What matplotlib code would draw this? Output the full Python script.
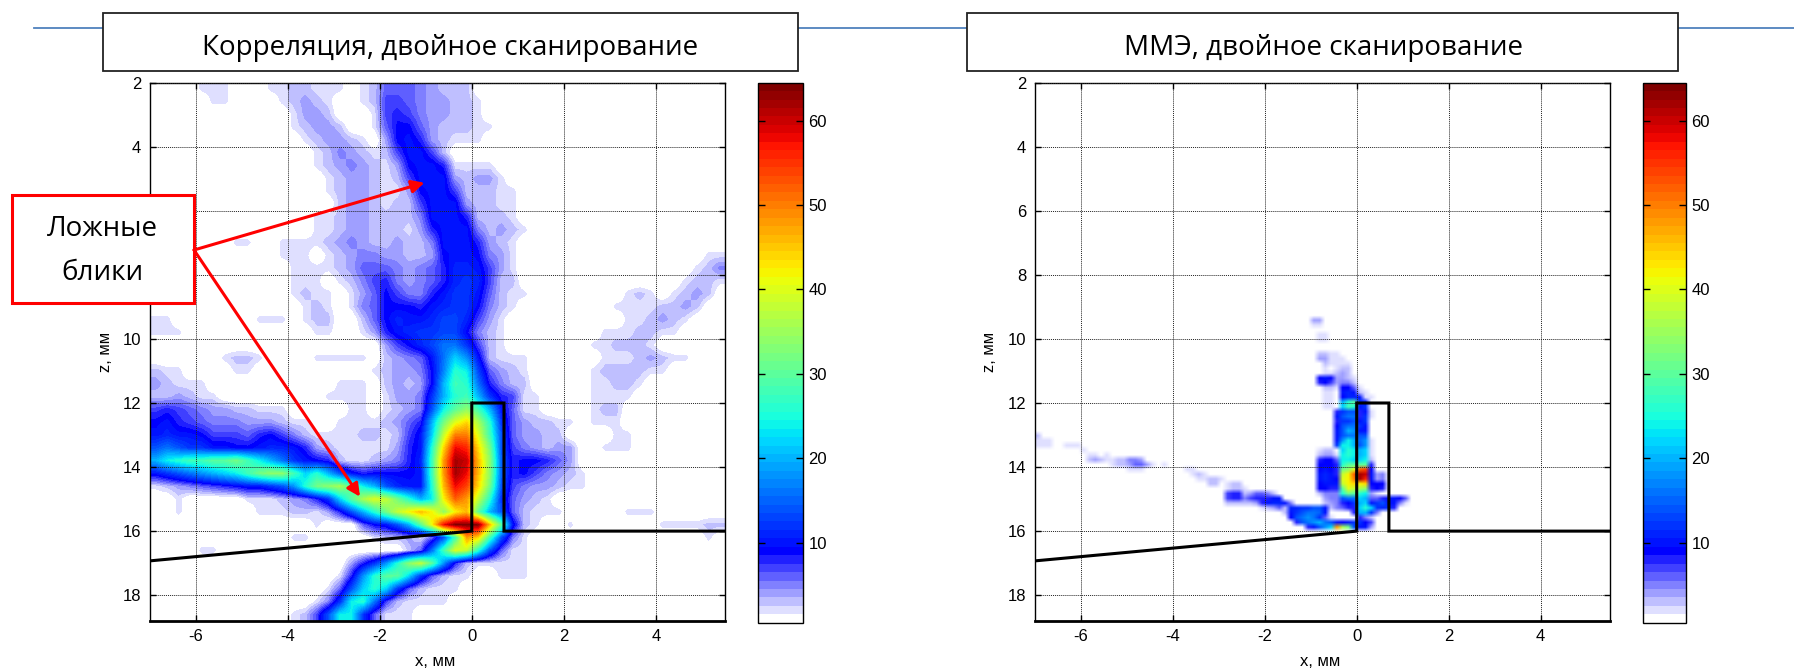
import numpy as np
import matplotlib
matplotlib.use("Agg")
import matplotlib.pyplot as plt
from matplotlib.colors import ListedColormap
from matplotlib.patches import Rectangle, FancyArrowPatch
from matplotlib.lines import Line2D

FW, FH = 1794, 670
title_left = "Корреляция, двойное сканирование"
title_right = "ММЭ, двойное сканирование"
callout_lines = ["Ложные", "блики"]
x_ticks = [-6, -4, -2, 0, 2, 4]
z_ticks = [2, 4, 6, 8, 10, 12, 14, 16, 18]
z_labels_left = ["2", "4", "", "", "10", "12", "14", "16", "18"]  # 6 and 8 sit under the callout box
z_labels_right = ["2", "4", "6", "8", "10", "12", "14", "16", "18"]
cbar_ticks = [10, 20, 30, 40, 50, 60]
x_label = "x, мм"
z_label = "z, мм"
# sample outline (x mm, z mm)
outline_x = [-7, 0, 0, 0.7, 0.7, 5.5]
outline_z = [16.93, 16, 12, 12, 16, 16]

# left panel: columns every 0.25 mm from x=-7, rows every 0.4 mm from z=2; trailing zeros omitted
corr_rows = [
[0,0,0,0,2,2,2,0,0,0, 2,2,3,3,2,2,2,0,2,3, 6,6,6,5,4,3,3,3],
[0,0,0,0,0,2,2,0,0,0, 0,2,3,4,3,2,0,0,2,3, 7,7,6,5,4,4,3,3,2],
[0,0,0,0,0,0,0,0,0,0, 0,0,2,4,4,3,0,0,0,2, 7,8,7,5,4,4,3,3,2],
[0,0,0,0,0,0,0,0,0,0, 0,0,2,3,4,4,3,0,0,2, 6,9,9,6,4,3,3,3,2,2],
[0,0,0,0,0,0,0,0,0,0, 0,0,0,2,3,4,4,3,2,0, 4,9,10,8,4,3,2,2,2],
[0,0,0,0,0,0,0,0,0,0, 0,0,0,0,2,3,5,4,3,2, 3,7,10,10,7,3],
[0,0,0,0,0,0,0,0,0,0, 0,0,0,0,2,3,4,5,4,3, 2,4,9,10,10,8,2,2,2,2],
[0,0,0,0,0,0,0,0,0,0, 0,0,0,0,0,2,3,4,4,3, 2,3,7,10,10,10,4,3,4,4,2],
[0,0,0,0,0,0,0,0,0,0, 0,0,0,0,0,2,3,4,4,3, 2,2,4,9,10,10,7,3,3,3,2,2],
[0,0,0,0,0,0,0,0,0,0, 0,0,0,0,0,0,3,4,4,3, 2,3,3,7,10,10,10,4,3,3,2,2],
[0,0,0,0,0,0,0,0,0,0, 0,0,0,0,2,2,3,4,4,3, 3,3,3,5,10,10,10,8,3,3,3,2],
[0,0,0,0,0,0,0,0,0,0, 0,0,0,0,2,2,3,4,4,3, 3,3,2,4,8,10,10,10,5,3,4,3,2],
[0,0,0,0,0,0,0,2,2,0, 0,2,2,2,2,3,4,5,4,3, 3,4,3,3,5,10,10,10,8,4,3,2],
[0,0,0,0,0,0,0,0,0,0, 0,2,2,2,0,2,3,4,5,5, 4,4,3,3,4,9,10,10,9,5,4,2,0,0,0,0,0,0,0,0,0,0,0,0,0,0,0,0,2,2],
[0,0,0,0,0,0,0,0,0,0, 0,0,2,2,2,2,3,4,6,6, 6,5,4,5,6,8,11,11,10,7,4,2,0,0,0,0,0,0,0,0,0,0,0,0,0,0,0,2,3,5],
[0,0,0,0,0,0,0,0,0,0, 0,0,2,2,2,0,2,3,5,7, 8,5,4,5,6,8,11,12,11,7,3,3,0,0,0,0,0,0,0,0,0,0,0,0,0,0,2,3,3,2],
[0,0,0,0,0,0,0,0,0,0, 0,0,2,3,2,2,0,2,4,6, 9,7,5,5,8,10,12,12,10,6,3,2,2,0,0,0,0,0,0,0,0,2,3,2,0,2,3,4,3],
[0,0,0,0,0,0,0,0,0,0, 0,0,0,2,3,2,0,2,5,6, 9,9,9,8,10,11,12,12,9,5,3,2,0,0,0,0,0,0,0,0,2,2,2,2,3,3,4,3],
[2,2,0,0,0,0,0,0,0,2, 2,2,0,2,3,3,0,0,3,6, 9,11,10,10,11,13,13,11,7,4,2,0,0,0,0,0,0,0,0,0,0,2,2,3,4,3,2],
[2,2,2,0,0,0,0,0,0,0, 0,0,0,0,2,2,0,0,2,4, 8,10,11,12,12,13,13,9,5,3,2,0,0,0,0,0,0,0,0,2,2,2,3,3,2,2],
[0,0,0,0,0,0,0,0,0,0, 0,0,0,0,0,0,0,0,0,0, 4,7,9,11,13,16,16,12,7,3,2,0,0,0,0,0,0,0,2,2,3,3,3,2],
[0,0,0,0,0,0,2,3,3,2, 0,0,0,0,2,2,2,2,2,0, 3,4,5,6,10,16,22,18,10,3,2,2,2,0,0,0,0,0,0,2,2,2,3,4,3,2,2],
[3,2,2,0,0,0,0,2,2,0, 0,0,0,0,0,0,0,0,0,2, 3,4,4,5,9,17,26,24,13,6,4,3,2,0,0,0,0,0,2,3,3,3,3,2,2],
[4,3,2,2,2,0,0,0,0,0, 0,0,0,0,0,0,2,2,2,0, 3,4,3,4,9,20,28,26,16,8,5,3,3,0,0,0,0,0,2,2,3,3,2],
[3,3,4,3,2,2,0,0,0,0, 0,0,0,0,0,2,2,2,2,0, 2,4,4,5,12,20,26,28,20,12,8,7,2,2,0,0,0,0,2,2,2,2],
[7,8,7,6,5,4,4,3,3,2, 2,2,0,0,0,0,0,2,2,0, 2,3,4,5,14,24,30,34,28,20,10,6,2,2,0,0,0,0,2,3,3],
[9,10,8,7,6,5,5,5,4,4, 4,3,2,2,0,0,2,2,2,2, 3,4,6,8,20,32,40,44,36,26,12,6,4,3,3,2,2,0,2,2,2],
[10,11,10,10,9,7,7,7,6,8, 9,7,5,3,2,2,2,2,3,3, 2,3,7,10,22,38,50,50,40,28,14,6,4,4,3,3,0,0,0,0,2,2],
[14,16,14,12,12,10,10,9,9,10, 11,11,10,8,4,3,2,2,2,2, 2,4,8,10,26,44,58,56,44,32,14,7,5,4,3,4,4,0,0,2,2,2],
[20,24,26,28,28,30,30,32,28,24, 20,16,12,10,9,8,3,2,2,3, 4,5,8,11,28,48,62,60,46,34,15,8,9,9,8,6,4],
[10,12,14,16,18,20,22,24,28,32, 34,34,28,22,26,20,14,10,8,9, 9,9,9,10,28,48,62,58,46,34,15,8,9,7,5,4,3,2],
[2,3,4,5,6,7,8,9,10,10, 12,14,18,26,32,34,36,30,24,20, 14,11,10,10,26,46,58,54,44,32,14,7,5,4,4,3,2,2],
[0,0,2,0,0,0,0,0,2,2, 2,3,4,5,8,12,22,30,36,40, 38,32,26,20,24,42,52,48,38,26,12,6,4,3,2],
[0,0,2,0,0,0,0,0,0,2, 2,2,3,3,2,4,8,14,20,26, 32,38,42,46,42,34,42,46,30,20,14,6,3,2,2,2,0,0,0,0,0,2,2,2],
[0,0,0,0,0,0,0,0,0,0, 0,0,0,0,2,0,0,0,6,9, 10,14,20,30,42,58,64,64,64,46,30,10,3,2,0,0,2,0,0,0,0,0,0,0,2,2,2,2,3,3],
[0,0,0,0,0,0,0,0,0,0, 0,0,2,2,0,0,0,0,0,2, 3,3,4,2,6,14,28,48,44,28,14,5,2,0,0,0,0,0,0,0,0,0,0,0,0,0,0,0,2],
[0,0,0,0,2,2,0,0,0,0, 0,0,0,0,0,0,0,0,0,0, 0,0,3,6,16,28,40,38,26,14,6,2,2],
[0,0,0,0,0,0,0,0,0,0, 0,0,0,0,0,0,0,4,8,12, 18,26,34,38,30,18,8,3,2,2,2,2,2],
[0,0,0,0,0,0,0,0,0,0, 0,0,0,0,0,0,2,8,18,26, 30,30,22,12,6,3,2,2,0,0,2,2,2],
[0,0,0,0,0,0,0,0,0,0, 0,0,0,0,0,2,6,14,22,26, 22,12,6,3,2,2,2],
[0,0,0,0,0,0,0,0,0,0, 0,0,0,0,2,5,12,24,26,16, 7,3,2,2,2,2],
[0,0,0,0,0,0,0,0,0,0, 0,0,2,3,7,14,24,24,12,6, 2,2,2],
]

# right panel: (z of row, x of first cell, cell values); cells 0.125 mm by 0.15 mm
mme_segments = [
(9.4,-1.0,[4,4]),(9.55,-1.0,[2,2]),(9.85,-0.875,[2,2]),(10.0,-0.875,[2,2]),
(10.45,-0.875,[3,3,2,2]),(10.6,-0.875,[4,4,2,2,2]),(10.75,-0.75,[3,2,2,2,2]),
(10.9,-0.75,[2,0,2,3,3]),(11.05,-0.75,[2,2,3,4,3]),
(11.2,-0.875,[9,10,9,4,4,3,2]),(11.35,-0.875,[8,9,7,4,5,5,3]),
(11.5,-0.75,[3,3,2,9,9,6,2]),(11.65,-0.75,[2,2,0,10,11,10,3,2]),
(11.8,-0.75,[2,2,0,9,11,11,10,2,2]),(11.95,-0.75,[2,2,0,20,26,30,12,10]),
(12.1,-0.75,[2,2,0,22,28,26,10,12]),(12.25,-0.5,[8,12,14,14,8,10,2]),
(12.4,-0.5,[10,14,16,16,8,12,2]),(12.55,-0.5,[8,12,12,14,10,12]),
(12.7,-0.5,[9,14,16,16,12,10]),(12.85,-0.5,[10,14,20,18,10,10]),
(13.0,-0.5,[10,14,16,16,14,14]),(13.15,-0.5,[10,18,24,20,15,18,2]),
(13.3,-0.5,[12,24,24,20,14,18,2]),
(13.45,-0.875,[2,3,3,0,22,26,24,20,22,2]),(13.6,-0.875,[3,4,4,2,24,26,24,20,22,2]),
(13.75,-0.875,[8,9,9,6,24,24,22,22,24,3]),(13.9,-0.875,[9,9,9,8,26,30,30,30,30,8]),
(14.05,-0.875,[9,10,9,8,32,34,40,52,54,9]),(14.2,-0.875,[10,11,10,8,38,42,52,62,60,10,4,5]),
(14.35,-0.875,[10,11,10,9,40,42,50,62,56,10,4,5]),(14.5,-0.875,[9,10,10,10,38,42,44,42,44,9,9,9]),
(14.65,-0.875,[9,9,8,8,30,40,38,36,34,8,9,8]),(14.8,-0.875,[3,5,5,5,26,32,30,26,24,4,2]),
(14.95,-0.875,[0,4,5,5,14,16,16,22,20,6,6,8,10,10,9,6]),
(15.1,-0.875,[0,3,4,5,8,9,12,20,22,10,12,14,10,10,5,2]),
(15.25,-0.875,[0,0,3,5,6,8,8,22,26,22,12,11,12,8]),
(15.4,-0.125,[8,20,20,12,5]),(15.55,0.0,[8,5,3]),(15.7,-0.125,[12,9,9,7]),(15.85,0.0,[10,10,4]),
(13.0,-7.0,[3]),(13.15,-7.0,[2,2,2]),(13.3,-7.0,[2,2,2]),(13.3,-6.375,[2,2,2]),(13.45,-6.0,[2]),
(13.6,-5.875,[2,2,0,2]),(13.75,-5.875,[3,4,3,2,2,3,3,5,5,4]),
(13.9,-5.375,[2,3,3,4,6,6,4]),(13.9,-4.5,[2]),(13.9,-4.25,[2]),(14.05,-5.0,[2,2,2]),
(14.05,-3.75,[2,2]),(14.2,-3.625,[2,3,2]),(14.35,-3.5,[2,2,3,3,2]),
(14.5,-3.25,[3,3,0,2,3,3]),(14.65,-2.875,[2,3,3,2]),
(14.8,-2.875,[7,8,8,3,4,6,6,5,3]),(14.95,-2.875,[7,8,8,5,7,8,8,8,10,10]),
(15.1,-2.875,[3,3,3,3,3,4,8,10,11,11,10,5]),(15.25,-2.125,[2,3,4,6,3,3]),
(15.25,-1.5,[11,11,12,12,14,14,10]),(15.4,-1.625,[3,10,12,14,16,16,15,10]),
(15.55,-1.5,[9,14,16,18,16,12,6,2]),
(15.7,-1.375,[8,14,16,18,20,16,14,10,9,10,12,12]),
(15.85,-1.125,[8,10,14,18,22,48,36,32,14]),
]

# colour table: white to blue for the first levels, then 64-level jet
jet = plt.get_cmap("jet", 64)(np.arange(64))
ramp = np.linspace(0, 1, 9)[:, None]
jet[:9] = (1 - ramp) * np.array([[1, 1, 1, 1.0]]) + ramp * np.array([[0, 0, 1, 1.0]])
cmap = ListedColormap(jet)
VMIN, VMAX = 0.5, 64.5

plt.rcParams["font.family"] = ["Liberation Sans", "DejaVu Sans"]
plt.rcParams["axes.unicode_minus"] = False
fig = plt.figure(figsize=(FW / 100, FH / 100), dpi=100, facecolor="white")


def fx(p):
    return p / FW


def fy(p):
    return 1 - p / FH


def axes_px(x0, x1, y0, y1):
    return fig.add_axes([fx(x0), fy(y1), (x1 - x0) / FW, (y1 - y0) / FH])


XLIM = (-7, 5.5)
ZLIM = (18.8, 2)


def panel(x0, x1, cx0, cx1, data, stage, ylab_x, zlabs):
    ax = axes_px(x0, x1, 82.7, 620.8)
    im = ax.imshow(data, cmap=cmap, vmin=VMIN, vmax=VMAX, aspect="auto",
                   extent=[XLIM[0], XLIM[1], ZLIM[0], ZLIM[1]],
                   interpolation="bilinear", interpolation_stage=stage, origin="upper")
    ax.set_xlim(*XLIM)
    ax.set_ylim(*ZLIM)
    ax.set_xticks(x_ticks)
    ax.set_yticks(z_ticks, zlabs)
    ax.grid(True, color="#222222", linestyle=(0, (1, 1)), linewidth=0.7)
    ax.set_axisbelow(False)
    ax.tick_params(direction="in", length=4, width=1, top=True, right=True,
                   labelsize=12, pad=6, color="black")
    for s in ax.spines.values():
        s.set_linewidth(1.0)
    ax.spines["bottom"].set_linewidth(2.0)
    ax.plot(outline_x, outline_z, color="black", lw=2.2, solid_joinstyle="miter", zorder=4)
    fig.text(fx((x0 + x1) / 2 - 2), fy(662), x_label, ha="center", va="center", fontsize=12)
    fig.text(fx(ylab_x), fy(352), z_label, ha="center", va="center", rotation=90, fontsize=12)
    cax = axes_px(cx0, cx1, 82.7, 622.7)
    cb = fig.colorbar(im, cax=cax, ticks=cbar_ticks, drawedges=False)
    cax.tick_params(direction="in", length=5, width=1, left=True, right=True,
                    labelsize=12, pad=4)
    cb.outline.set_linewidth(1.0)
    return ax


corr = np.array([r + [0] * (50 - len(r)) for r in corr_rows], dtype=float)

mme = np.zeros((112, 100))
for z, x_first, vals in mme_segments:
    r = int(round((z - 2) / 0.15))
    c = int(round((x_first + 7) / 0.125))
    for k, v in enumerate(vals):
        mme[r, c + k] = max(mme[r, c + k], v)

panel(149.5, 725.0, 757.5, 803.0, corr, "data", 105, z_labels_left)
panel(1034.7, 1609.7, 1642.7, 1685.7, mme, "rgba", 989, z_labels_right)

# slide decoration: thin blue rule behind the title boxes
fig.add_artist(Line2D([fx(34), fx(1794)], [fy(28), fy(28)], color="#4F81BD", lw=1.3, zorder=3))


def box(x0, x1, y0, y1, ec, lw):
    fig.add_artist(Rectangle((fx(x0), fy(y1)), (x1 - x0) / FW, (y1 - y0) / FH,
                             transform=fig.transFigure, facecolor="white",
                             edgecolor=ec, linewidth=lw, zorder=5))


box(102.5, 798, 13, 71, "#222222", 1.3)
box(967, 1678, 13, 71, "#222222", 1.3)
box(11.5, 194, 195, 303, "#FF0000", 2.2)

TF = "Open Sans"
TS = 20
fig.text(fx(450), fy(47.5), title_left, ha="center", va="center", fontsize=TS, family=TF, zorder=6)
fig.text(fx(1323), fy(47.5), title_right, ha="center", va="center", fontsize=TS, family=TF, zorder=6)
fig.text(fx(102), fy(229), callout_lines[0], ha="center", va="center", fontsize=TS, family=TF, zorder=6)
fig.text(fx(102), fy(273), callout_lines[1], ha="center", va="center", fontsize=TS, family=TF, zorder=6)

for tx, ty in [(424.5, 182.7), (360, 496.7)]:
    fig.add_artist(FancyArrowPatch((fx(194), fy(250)), (fx(tx), fy(ty)),
                                   transform=fig.transFigure, arrowstyle="-|>",
                                   mutation_scale=19, color="#FF0000", lw=2.2,
                                   shrinkA=0, shrinkB=0, zorder=6))

fig.savefig("out.png", dpi=100, facecolor="white")
